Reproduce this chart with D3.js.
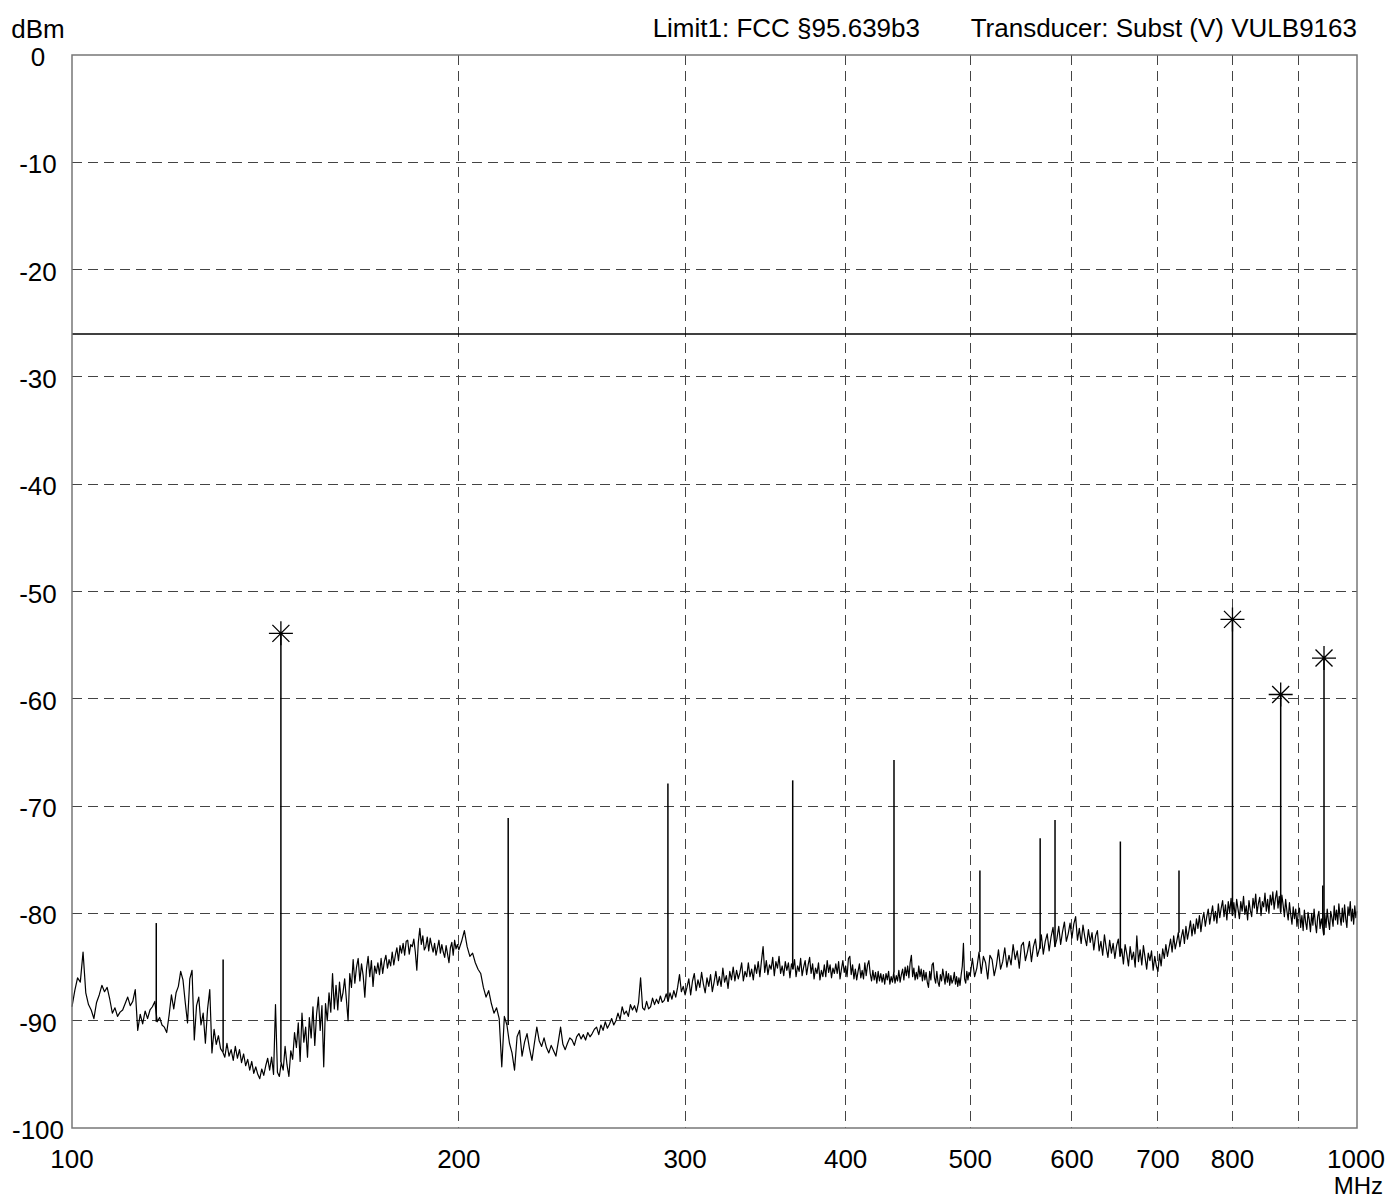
<!DOCTYPE html>
<html><head><meta charset="utf-8">
<script src="https://cdn.jsdelivr.net/npm/d3@7"></script>
<style>body{margin:0;background:#fff} text{font-family:"Liberation Sans",Arial,sans-serif;fill:#000}</style>
</head><body><svg id="c" width="1388" height="1200"></svg>
<script>
// ---------- data ----------
const xTicks=[100,200,300,400,500,600,700,800,900,1000];
const xTickLabels=["100","200","300","400","500","600","700","800","","1000"];
const yTicks=[0,-10,-20,-30,-40,-50,-60,-70,-80,-90,-100];
const limitLevel=-26;
const titleLimit="Limit1: FCC §95.639b3";
const titleTransducer="Transducer: Subst (V) VULB9163";
const yUnit="dBm", xUnit="MHz";

// sweep segment 1: 100..200 MHz, 0.5 MHz step
const seg1Start=100, seg1Step=0.5;
const seg1Values=[
-88.7,-87.2,-86.0,-86.4,-83.6,-87.4,-88.5,-89.0,-89.8,-88.3,
-87.6,-86.7,-87.3,-86.9,-88.0,-89.3,-88.8,-89.6,-89.2,-89.0,
-88.4,-87.8,-88.6,-88.2,-87.1,-90.9,-89.4,-90.3,-89.1,-89.8,
-89.0,-88.7,-88.2,-90.1,-89.7,-90.4,-90.6,-91.1,-89.5,-87.6,
-88.9,-87.4,-86.8,-85.4,-86.2,-88.3,-90.2,-86.1,-85.3,-91.8,
-88.6,-87.8,-90.4,-89.3,-92.1,-88.9,-87.1,-93.0,-90.8,-92.2,
-91.4,-92.6,-92.9,-93.4,-92.1,-93.3,-92.7,-93.7,-92.4,-93.5,
-92.7,-93.9,-93.1,-94.2,-93.6,-94.6,-93.8,-94.9,-94.3,-95.0,
-95.4,-94.5,-95.1,-94.2,-93.5,-94.6,-93.4,-95.0,-88.5,-94.8,
-95.2,-93.9,-94.6,-92.4,-94.1,-95.2,-92.8,-93.6,-91.1,-92.5,
-90.2,-93.8,-89.3,-92.0,-90.6,-93.4,-89.7,-91.6,-88.7,-92.3,
-89.4,-87.8,-90.9,-88.6,-94.3,-88.4,-90.0,-87.4,-89.2,-85.6,
-88.9,-86.7,-89.0,-86.4,-88.2,-87.4,-86.1,-88.0,-90.0,-85.6,
-86.9,-84.3,-86.5,-85.0,-84.2,-86.3,-84.7,-85.8,-87.8,-85.2,
-84.0,-85.9,-84.4,-86.8,-84.9,-85.6,-84.6,-85.7,-84.2,-85.6,
-84.5,-83.9,-85.1,-84.3,-84.9,-83.6,-84.8,-83.9,-83.2,-84.4,
-83.0,-83.7,-82.8,-83.9,-82.6,-82.5,-83.8,-82.9,-83.1,-82.4,
-83.6,-85.3,-82.7,-81.4,-82.9,-82.1,-83.4,-83.1,-82.2,-83.5,
-82.3,-83.0,-83.6,-82.8,-83.9,-83.2,-82.5,-83.7,-82.9,-83.6,
-84.1,-83.0,-83.8,-84.6,-83.2,-82.7,-83.9,-82.5,-83.3,-82.9,
-83.4];

// sweep segment 2: 201..300 MHz, 1 MHz step
const seg2Start=201, seg2Step=1;
const seg2Values=[
-82.6,-81.6,-83.1,-84.0,-83.7,-84.6,-85.2,-85.6,-86.9,-87.8,
-87.2,-88.4,-89.3,-88.8,-89.8,-94.3,-89.6,-90.4,-92.1,-93.0,
-94.6,-91.5,-90.9,-93.3,-92.0,-91.2,-92.6,-93.7,-92.1,-90.6,
-91.9,-92.4,-91.6,-92.5,-93.0,-92.3,-92.8,-93.3,-92.0,-90.6,
-92.2,-92.7,-92.1,-91.6,-91.8,-92.3,-91.5,-91.2,-91.7,-91.3,
-91.8,-91.1,-91.5,-91.2,-90.8,-90.6,-91.3,-90.4,-90.9,-90.1,
-90.7,-90.3,-89.8,-90.4,-90.0,-89.3,-89.9,-88.7,-89.4,-89.1,
-89.6,-88.5,-89.0,-88.6,-89.2,-88.3,-86.0,-88.8,-89.0,-88.2,
-88.9,-88.7,-87.9,-88.5,-88.0,-88.4,-87.7,-88.3,-88.1,-87.5,
-88.2,-87.4,-88.0,-87.2,-87.8,-86.9,-85.7,-87.3,-86.8,-87.6];

// sweep segment 3: 301..500 MHz, 1 MHz step
const seg3Start=301, seg3Step=1;
const seg3Values=[
-86.9,-86.1,-87.6,-86.3,-85.6,-87.2,-86.2,-86.9,-85.5,-86.6,
-87.4,-86.0,-86.8,-85.7,-87.3,-86.4,-85.4,-86.7,-85.9,-86.8,
-85.1,-86.4,-85.8,-87.0,-85.4,-86.2,-85.0,-86.3,-85.3,-86.1,
-85.5,-84.6,-86.3,-85.4,-85.9,-84.6,-85.9,-85.2,-86.2,-84.8,
-85.6,-84.5,-85.9,-84.4,-83.1,-85.5,-84.4,-85.7,-84.8,-85.2,
-84.1,-85.8,-84.5,-85.1,-84.0,-85.6,-84.9,-85.8,-84.5,-85.3,
-84.6,-86.0,-84.7,-85.2,-84.3,-85.9,-84.9,-85.4,-84.2,-85.8,
-85.0,-84.4,-85.7,-84.8,-84.1,-85.6,-84.7,-86.1,-85.1,-85.6,
-84.6,-86.2,-85.3,-85.9,-84.8,-85.9,-84.4,-85.5,-84.8,-86.0,
-85.1,-85.6,-84.7,-85.6,-84.5,-86.1,-85.2,-84.4,-85.5,-84.9,
-85.9,-84.2,-84.0,-85.7,-84.8,-86.1,-85.2,-86.2,-85.4,-84.7,
-86.0,-85.3,-86.1,-84.6,-85.8,-84.8,-84.4,-85.6,-86.3,-85.3,
-86.2,-85.5,-86.5,-85.4,-86.3,-85.6,-86.4,-85.7,-86.6,-85.6,
-86.2,-85.4,-86.6,-85.9,-86.4,-85.5,-86.5,-85.8,-86.3,-85.3,
-86.4,-85.7,-85.2,-86.2,-85.0,-85.8,-84.9,-86.0,-84.6,-83.9,
-85.9,-85.1,-86.2,-85.5,-86.1,-84.9,-85.9,-85.2,-86.3,-85.3,
-86.2,-85.5,-86.4,-86.9,-85.4,-86.2,-84.8,-84.6,-86.0,-86.5,
-85.4,-86.4,-86.8,-85.7,-86.3,-85.2,-85.9,-86.6,-85.4,-86.4,
-85.6,-86.7,-85.8,-86.5,-86.2,-85.5,-86.6,-85.9,-86.8,-86.0,
-86.7,-85.7,-84.9,-82.8,-86.1,-86.5,-85.4,-86.2,-85.5,-85.8];

// sweep segment 4: 502..1000 MHz, 2 MHz step
const seg4Start=502, seg4Step=2;
const seg4Values=[
-84.2,-85.9,-85.1,-83.6,-85.6,-84.0,-84.6,-86.1,-83.9,-84.3,
-85.8,-84.9,-83.4,-85.2,-84.5,
-83.2,-85.0,-83.9,-84.8,-82.9,-84.3,-83.5,-85.1,-83.0,-82.7,
-84.4,-83.6,-82.6,-84.5,-83.1,
-82.4,-84.0,-83.3,-82.0,-83.8,-82.6,-81.9,-83.5,-82.2,-81.3,
-83.1,-82.4,-81.2,-82.9,-81.7,-80.8,-82.6,-81.9,-80.9,-82.3,
-81.0,-80.3,-82.5,-81.4,-82.8,-81.1,-82.2,-83.0,-81.5,-82.7,
-81.8,-83.4,-82.1,-81.6,-83.5,-82.6,-83.9,-82.0,-83.2,-84.1,
-82.5,-83.7,-82.8,-84.2,-83.0,
-82.4,-84.0,-83.3,-84.7,-82.9,-83.8,-84.9,-83.1,-84.3,-83.6,
-85.0,-82.1,-84.5,-83.4,-84.8,-83.0,-84.1,-85.2,-83.7,-84.4,
-83.5,-85.3,-84.0,-84.9,-85.4,
-83.8,-84.9,-83.3,-84.2,-82.9,-84.0,-83.2,-82.4,-83.6,-82.1,
-83.3,-82.6,-81.8,-83.1,-82.2,-81.5,-82.8,-81.2,-82.4,-81.6,
-80.7,-82.1,-81.0,-81.9,-80.5,-81.4,-80.2,-81.7,-80.6,-79.9,
-81.2,-80.3,-79.6,-81.0,-80.1,-79.3,-80.7,-79.8,-80.9,-79.1,
-80.4,-79.5,-78.8,-80.3,-79.2,-80.6,-78.9,-79.9,-78.6,-80.2,
-79.0,-80.4,-78.7,-79.6,-80.5,-78.9,-79.8,-78.4,-80.1,-79.3,
-80.6,-78.8,-79.7,-80.3,-78.6,-79.5,-78.2,-80.0,-79.1,-78.5,
-80.2,-78.9,-79.4,-78.1,-79.8,-78.7,-80.0,-78.3,-79.2,-78.0,
-79.6,-78.6,-77.9,-79.5,-78.4,
-79.9,-78.3,-79.2,-80.3,-78.7,-79.8,-80.6,-79.0,-80.1,-81.0,
-79.4,-80.5,-79.6,-81.2,-80.0,
-79.5,-81.3,-80.2,-81.6,-79.7,-80.8,-81.5,-79.9,-80.6,-81.7,
-80.0,-81.1,-79.6,-80.9,-81.8,-80.3,-79.8,-81.4,-80.5,-81.2,
-82.0,-80.1,-81.3,-79.6,-80.7,-81.5,-79.8,-80.4,-81.2,-79.3,
-80.6,-79.7,-81.0,-79.1,-80.3,-81.1,-79.5,-80.8,-79.2,-80.5,
-81.3,-79.4,-80.2,-78.9,-80.7,-79.6,-81.0,-79.3,-80.4,-79.8];

// narrow emissions (frequency MHz, peak dBm)
const spikeFreqs=[116.3,131.1,145.4,218.5,290.9,363.8,436.2,508.8,566.8,582.1,654.4,726.9,800,872.2,940.5,942.6];
const spikePeaks=[-80.9,-84.3,-53.9,-71.1,-67.9,-67.6,-65.7,-76.0,-73.0,-71.3,-73.3,-76.0,-52.6,-59.6,-77.4,-56.2];

// peak markers
const markerFreqs=[145.4,800,872.2,942.6];
const markerLevels=[-53.9,-52.6,-59.6,-56.2];

// ---------- chart ----------
const svg=d3.select("#c");
const L=72,R=1357,T=55,B=1128;
const x=d3.scaleLog().domain([100,1000]).range([L,R]);
const y=d3.scaleLinear().domain([-100,0]).range([B,T]);

function seg(start,step,vals){return vals.map((v,i)=>[start+i*step,v]);}
const trace=[].concat(seg(seg1Start,seg1Step,seg1Values),seg(seg2Start,seg2Step,seg2Values),
  seg(seg3Start,seg3Step,seg3Values),seg(seg4Start,seg4Step,seg4Values));

// grid
const g=svg.append("g");
g.selectAll("line.hg").data(yTicks.filter(d=>d>-100&&d<0)).join("line")
  .attr("x1",L).attr("x2",R).attr("y1",d=>y(d)).attr("y2",d=>y(d))
  .attr("stroke","#444").attr("stroke-width",1).attr("stroke-dasharray","10,6").attr("shape-rendering","crispEdges");
g.selectAll("line.vg").data(xTicks.filter(d=>d>100&&d<1000)).join("line")
  .attr("x1",d=>x(d)).attr("x2",d=>x(d)).attr("y1",T).attr("y2",B)
  .attr("stroke","#444").attr("stroke-width",1).attr("stroke-dasharray","10,6").attr("shape-rendering","crispEdges");

// limit line
svg.append("line").attr("x1",L).attr("x2",R).attr("y1",y(limitLevel)).attr("y2",y(limitLevel))
  .attr("stroke","#000").attr("stroke-width",1.5);

// trace
svg.append("path").datum(trace).attr("fill","none").attr("stroke","#000").attr("stroke-width",1.2)
  .attr("stroke-linejoin","round")
  .attr("d",d3.line().x(d=>x(d[0])).y(d=>y(d[1])));

// spikes
const spikes=spikeFreqs.map((f,i)=>{
  const near=d3.least(trace,p=>Math.abs(p[0]-f));
  return {f,peak:spikePeaks[i],base:near[1]};
});
svg.selectAll("line.sp").data(spikes).join("line")
  .attr("x1",d=>x(d.f)).attr("x2",d=>x(d.f)).attr("y1",d=>y(d.base)).attr("y2",d=>y(d.peak))
  .attr("stroke","#000").attr("stroke-width",1.5);

// markers (asterisks)
const star="M-12,0L12,0M0,-12L0,12M-8.5,-8.5L8.5,8.5M-8.5,8.5L8.5,-8.5";
svg.selectAll("path.mk").data(markerFreqs.map((f,i)=>[f,markerLevels[i]])).join("path")
  .attr("transform",d=>`translate(${x(d[0])},${y(d[1])})`).attr("d",star)
  .attr("fill","none").attr("stroke","#000").attr("stroke-width",1.3);

// frame
svg.append("rect").attr("x",L).attr("y",T).attr("width",R-L).attr("height",B-T)
  .attr("fill","none").attr("stroke","#777").attr("stroke-width",1.5);

// y labels
svg.selectAll("text.yl").data(yTicks).join("text")
  .attr("x",38).attr("y",d=>y(d)+11).attr("text-anchor","middle").attr("font-size",26).text(d=>d);
svg.append("text").attr("x",38).attr("y",38).attr("text-anchor","middle").attr("font-size",26).text(yUnit);

// x labels
svg.selectAll("text.xl").data(xTicks).join("text")
  .attr("x",d=>d===1000?x(d)-1:x(d)).attr("y",1168).attr("text-anchor","middle").attr("font-size",26)
  .text((d,i)=>xTickLabels[i]);
svg.append("text").attr("x",1383).attr("y",1194).attr("text-anchor","end").attr("font-size",24).text(xUnit);

// header
svg.append("text").attr("x",920).attr("y",37).attr("text-anchor","end").attr("font-size",26).text(titleLimit);
svg.append("text").attr("x",1357).attr("y",37).attr("text-anchor","end").attr("font-size",26).text(titleTransducer);
</script></body></html>
